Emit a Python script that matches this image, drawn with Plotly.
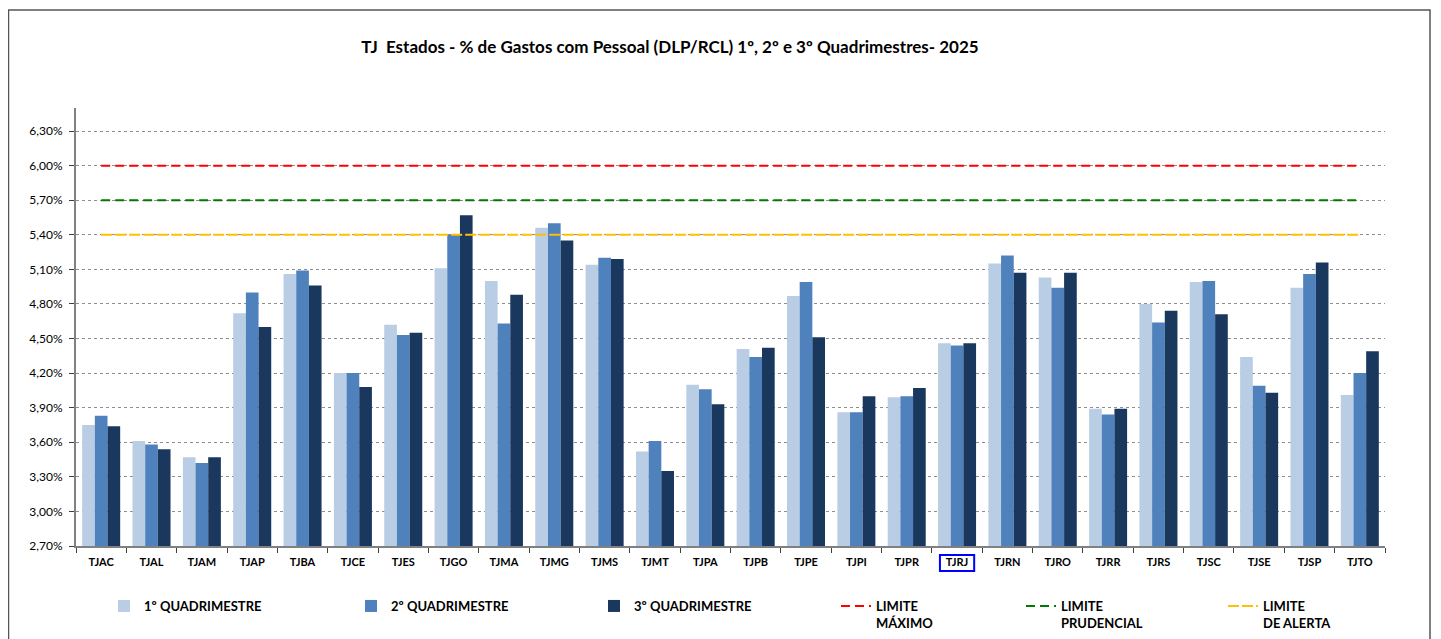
import plotly.graph_objects as go

categories = ["TJAC", "TJAL", "TJAM", "TJAP", "TJBA", "TJCE", "TJES", "TJGO", "TJMA", "TJMG",
              "TJMS", "TJMT", "TJPA", "TJPB", "TJPE", "TJPI", "TJPR", "TJRJ", "TJRN", "TJRO",
              "TJRR", "TJRS", "TJSC", "TJSE", "TJSP", "TJTO"]

q1 = [3.75, 3.61, 3.47, 4.72, 5.06, 4.20, 4.62, 5.11, 5.00, 5.46, 5.14, 3.52, 4.10, 4.41,
      4.87, 3.86, 3.99, 4.46, 5.15, 5.03, 3.89, 4.80, 4.99, 4.34, 4.94, 4.01]
q2 = [3.83, 3.58, 3.42, 4.90, 5.09, 4.20, 4.53, 5.40, 4.63, 5.50, 5.20, 3.61, 4.06, 4.34,
      4.99, 3.86, 4.00, 4.44, 5.22, 4.94, 3.84, 4.64, 5.00, 4.09, 5.06, 4.20]
q3 = [3.74, 3.54, 3.47, 4.60, 4.96, 4.08, 4.55, 5.57, 4.88, 5.35, 5.19, 3.35, 3.93, 4.42,
      4.51, 4.00, 4.07, 4.46, 5.07, 5.07, 3.89, 4.74, 4.71, 4.03, 5.16, 4.39]

limite_maximo = 6.00
limite_prudencial = 5.70
limite_alerta = 5.40

y_ticks = [2.70, 3.00, 3.30, 3.60, 3.90, 4.20, 4.50, 4.80, 5.10, 5.40, 5.70, 6.00, 6.30]
y_ticktext = [f"{v:.2f}".replace(".", ",") + "%" for v in y_ticks]

series_names = ["1º QUADRIMESTRE", "2º QUADRIMESTRE", "3º QUADRIMESTRE"]
series_colors = ["#B9CDE5", "#4F81BD", "#1A375E"]
limit_names = ["LIMITE<br>MÁXIMO", "LIMITE<br>PRUDENCIAL", "LIMITE<br>DE ALERTA"]
limit_values = [limite_maximo, limite_prudencial, limite_alerta]
limit_colors = ["#FF0000", "#007A00", "#FFC000"]
limit_dash = ["9px,5px", "9px,5px", "11px,3px"]

FONT = "Lato"

fig = go.Figure()
legend_ids = ["legend", "legend2", "legend3", "legend4", "legend5", "legend6"]

for i, (vals, name, col) in enumerate(zip([q1, q2, q3], series_names, series_colors)):
    fig.add_trace(go.Bar(x=categories, y=vals, name=name, marker_color=col,
                         marker_line_width=0, legend=legend_ids[i]))

for j, (val, name, col, dash) in enumerate(zip(limit_values, limit_names, limit_colors, limit_dash)):
    fig.add_trace(go.Scatter(x=categories, y=[val] * len(categories), name=name, mode="lines",
                             line=dict(color=col, width=2, dash=dash), legend=legend_ids[3 + j]))

# page body has an 8px margin: figure coords = screen coords - 8
OFF = 8
W, H = 1441, 639
L, R, T, B = 76 - OFF, 1385 - OFF, 108 - OFF, 546 - OFF
pw, ph = R - L, B - T

def px_x(s):
    return (s - OFF - L) / pw

def px_y(s):
    return (B - (s - OFF)) / ph

legend_text_starts = [143, 390, 633, 875, 1060, 1262]
legend_layout = {}
for k, (lid, xs) in enumerate(zip(legend_ids, legend_text_starts)):
    legend_layout[lid] = dict(
        x=px_x(xs - 39), y=px_y(591), xanchor="left", yanchor="top",
        orientation="h", bgcolor="rgba(0,0,0,0)", valign="top",
        font=dict(family=FONT, size=13, color="#000000", weight="bold"),
        itemwidth=30,
    )

fig.update_layout(
    width=W, height=H,
    margin=dict(l=L, r=W - R, t=T, b=H - B, autoexpand=False),
    plot_bgcolor="white", paper_bgcolor="white",
    barmode="group", bargap=0.245, bargroupgap=0,
    title=dict(text="TJ  Estados - % de Gastos com Pessoal (DLP/RCL) 1º, 2º e 3º Quadrimestres- 2025",
               x=(670 - OFF) / W, xref="container", xanchor="center",
               y=1 - (47 - OFF) / H, yref="container", yanchor="middle",
               font=dict(family=FONT, size=17, color="#000000", weight="bold")),
    showlegend=True,
    **legend_layout,
)

fig.update_yaxes(range=[2.70, 6.50], tickvals=y_ticks, ticktext=y_ticktext,
                 showgrid=True, gridcolor="#8C8C8C", griddash="dot", gridwidth=1,
                 showline=True, linecolor="#808080", linewidth=2,
                 ticks="outside", ticklen=5, tickcolor="#404040", tickwidth=1,
                 ticklabelstandoff=4,
                 tickfont=dict(family=FONT, size=12, color="#000000"),
                 zeroline=False, fixedrange=True)
fig.update_xaxes(showline=True, linecolor="#808080", linewidth=2,
                 ticks="outside", tickson="boundaries", ticklen=5, tickcolor="#404040",
                 ticklabelstandoff=5,
                 tickfont=dict(family=FONT, size=11, color="#000000", weight="bold"),
                 showgrid=False)

# outer frame
fig.add_shape(type="rect", xref="paper", yref="paper",
              x0=px_x(8.5), x1=px_x(1430), y0=px_y(660), y1=px_y(10),
              line=dict(color="#555555", width=1.5), fillcolor="rgba(0,0,0,0)", layer="below")

# highlight box around TJRJ label
idx = categories.index("TJRJ")
fig.add_shape(type="rect", xref="x", yref="paper",
              x0=idx - 0.34, x1=idx + 0.34, y0=px_y(571), y1=px_y(555),
              line=dict(color="#0000FF", width=2), fillcolor="rgba(0,0,0,0)")

fig.write_html("out.html")
